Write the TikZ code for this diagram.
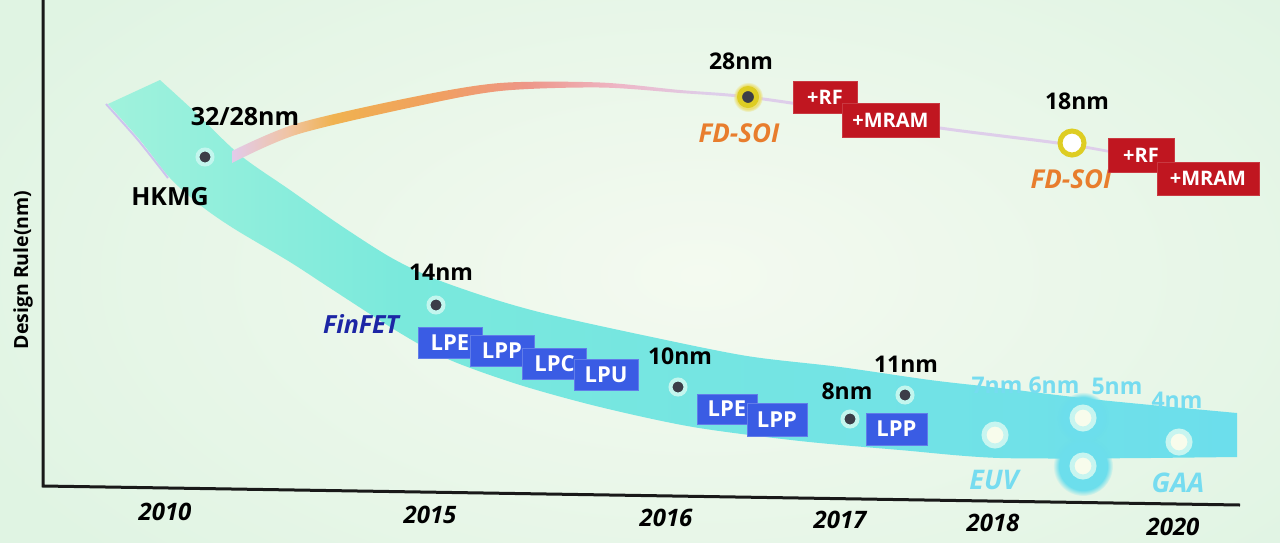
\documentclass[tikz,border=0pt]{standalone}
\usepackage{fontspec}
\setmainfont{Open Sans}
\usetikzlibrary{fadings}
\newcommand\myfs[1]{\fontsize{#1}{#1}\selectfont}
\definecolor{bg}{RGB}{224,244,227}
\definecolor{bgc}{RGB}{244,250,240}
\definecolor{bandL}{RGB}{160,242,220}
\definecolor{bandM}{RGB}{122,233,220}
\definecolor{bandR}{RGB}{108,222,236}
\definecolor{dotc}{RGB}{60,62,72}
\definecolor{halo}{RGB}{195,246,238}
\definecolor{fdorange}{RGB}{232,125,45}
\definecolor{ringy}{RGB}{222,205,35}
\definecolor{redbox}{RGB}{192,22,32}
\definecolor{bluebox}{RGB}{58,92,228}
\definecolor{finblue}{RGB}{28,38,165}
\definecolor{lcyan}{RGB}{118,220,240}
\definecolor{axisc}{RGB}{25,25,25}
\definecolor{rb1}{RGB}{226,202,234}
\definecolor{rb2}{RGB}{240,196,165}
\definecolor{rb3}{RGB}{240,178,80}
\definecolor{rb4}{RGB}{240,160,95}
\definecolor{rb5}{RGB}{238,150,135}
\definecolor{rb6}{RGB}{238,182,198}
\definecolor{rb7}{RGB}{222,206,234}
\pgfdeclarehorizontalshading{bandshade}{100bp}{color(0bp)=(bandL); color(25bp)=(bandL); color(38bp)=(bandM); color(75bp)=(bandR); color(100bp)=(bandR)}
\pgfdeclarehorizontalshading{fdshade}{100bp}{color(0bp)=(rb1); color(25bp)=(rb1); color(28bp)=(rb2); color(30.5bp)=(rb3); color(36bp)=(rb4); color(41bp)=(rb5); color(46bp)=(rb6); color(51bp)=(rb7); color(75bp)=(rb7); color(100bp)=(rb7)}
\begin{document}
\begin{tikzpicture}[x=1pt,y=-1pt,
  lbl/.style={inner sep=0pt, font=\bfseries\myfs{23}},
  biglbl/.style={inner sep=0pt, font=\bfseries\myfs{25}},
  yearlbl/.style={inner sep=0pt, font=\bfseries\itshape\myfs{24}},
  fdlbl/.style={inner sep=0pt, text=fdorange, font=\bfseries\itshape\myfs{26}},
  cyanlbl/.style={inner sep=0pt, text=lcyan, font=\bfseries\myfs{23}},
  cyanit/.style={inner sep=0pt, text=lcyan, font=\bfseries\itshape\myfs{27}},
  ndot/.style={circle, fill=dotc, draw=halo, line width=4pt, minimum size=15pt, inner sep=0pt},
  ydot/.style={circle, fill=dotc, draw=ringy, line width=5pt, minimum size=17pt, inner sep=0pt},
  yring/.style={circle, fill=white, draw=ringy, line width=5pt, minimum size=24pt, inner sep=0pt},
  wdot/.style={circle, fill={rgb,255:red,248;green,252;blue,236}, draw={rgb,255:red,200;green,245;blue,240}, line width=5pt, minimum size=22pt, inner sep=0pt},
  lpbox/.style={fill=bluebox, draw=bluebox!80!white, line width=1pt, text=white, font=\bfseries\myfs{22}, minimum width=64pt, minimum height=31pt, inner sep=0pt},
  rfbox/.style={fill=redbox, draw=redbox!85!white, line width=1pt, text=white, font=\bfseries\myfs{20}, minimum height=33pt, inner sep=0pt},
  axisline/.style={draw=axisc, line width=3pt}]
\useasboundingbox (0,0) rectangle (1280,542);
% background
\fill[bg] (0,0) rectangle (1280,542);
\shade[inner color=bgc, outer color=bg] (-100,-150) rectangle (1500,700);
% band
\shade[shading=bandshade] plot[smooth] coordinates {(160,80) (195,112) (240,155) (290,190) (340,225) (390,257) (433,278) (490,298) (547,314) (647,336) (747,356) (840,367) (930,380) (1000,388) (1100,400) (1237,413)}
  -- (1237,457) -- plot[smooth] coordinates {(1150,458) (1000,458) (900,450) (800,441) (693,427) (600,407) (520,385) (450,360) (400,333) (333,290) (290,262) (233,228) (200,205) (170,178) (140,140) (108,104)} -- cycle;
\fill[bandR, path fading=circle with fuzzy edge 20 percent] (1083,466) circle (30);
\fill[bandR, path fading=circle with fuzzy edge 20 percent] (1083,418) circle (26);
\draw[line width=2pt, draw={rgb,255:red,205;green,195;blue,238}] plot[smooth] coordinates {(106,104) (138,140) (168,178)};
% FD-SOI ribbon
\shade[shading=fdshade] plot[smooth] coordinates {(232,151) (297,123.5) (413,97) (500,83) (600,82.5) (680,90) (748,95.5) (850,110.5) (940,126.5) (1072,143.5) (1150,158.5)}
  -- plot[smooth] coordinates {(1150,160.5) (1072,146.5) (940,129.5) (850,113.5) (748,98.5) (680,93) (600,87.5) (500,91) (413,107) (297,134.5) (232,163)} -- cycle;
% axes
\coordinate (ytop) at (43,0);
\coordinate (orig) at (43,486);
\coordinate (xend) at (1240,505);
\draw[axisline] (ytop) -- (orig) -- (xend);
\node[rotate=90, inner sep=0pt, font=\bfseries\myfs{19.5}] (ylab) at (23,270) {Design Rule(nm)};
% years
\node[yearlbl] (y2010) at (165,512) {2010};
\node[yearlbl] (y2015) at (430,515) {2015};
\node[yearlbl] (y2016) at (666,518) {2016};
\node[yearlbl] (y2017) at (840,520) {2017};
\node[yearlbl] (y2018) at (993,523) {2018};
\node[yearlbl] (y2020) at (1173,527) {2020};
% band dots and labels
\node[ndot] (d32) at (205,157) {};
\node[biglbl] (l32) at (245,117) {32/28nm};
\node[biglbl] (lhkmg) at (170,197) {HKMG};
\node[ndot] (d14) at (436,305) {};
\node[lbl] (l14) at (441,272) {14nm};
\node[inner sep=0pt, text=finblue, font=\bfseries\itshape\myfs{25}] (lfin) at (361,324) {FinFET};
\node[lpbox] (lpe1) at (450,342.5) {LPE};
\node[lpbox] (lpp1) at (502,351) {LPP};
\node[lpbox] (lpc1) at (554.5,364) {LPC};
\node[lpbox] (lpu1) at (606,375) {LPU};
\node[ndot] (d10) at (678,387) {};
\node[lbl] (l10) at (680,356) {10nm};
\node[lpbox, minimum width=60pt, minimum height=30pt] (lpe2) at (727,409) {LPE};
\node[lpbox, minimum width=60pt, minimum height=33pt] (lpp2) at (777,419.5) {LPP};
\node[ndot] (d8) at (850,419) {};
\node[lbl] (l8) at (847,391) {8nm};
\node[ndot] (d11) at (905,395) {};
\node[lbl] (l11) at (906,364) {11nm};
\node[lpbox, minimum width=61pt, minimum height=32pt] (lpp3) at (896.5,429) {LPP};
% future nodes
\node[wdot] (deuv) at (995,435) {};
\node[wdot] (d5a) at (1083,418) {};
\node[wdot] (d5b) at (1083,466) {};
\node[wdot] (dgaa) at (1179,442) {};
\node[cyanlbl] (l7) at (997,385) {7nm};
\node[cyanlbl] (l6) at (1054,385) {6nm};
\node[cyanlbl] (l5) at (1117,386) {5nm};
\node[cyanlbl] (l4) at (1177,400) {4nm};
\node[cyanit] (leuv) at (994,480) {EUV};
\node[cyanit] (lgaa) at (1178,483) {GAA};
% FD-SOI branch
\fill[ringy!60!white, path fading=circle with fuzzy edge 20 percent] (748,97) circle (15);
\node[ydot] (d28) at (748,97) {};
\node[lbl] (l28) at (741,61) {28nm};
\node[fdlbl] (fd1) at (739,133) {FD-SOI};
\node[rfbox, minimum width=64pt, minimum height=32pt] (rf1) at (825,97) {+RF};
\node[rfbox, minimum width=97pt, minimum height=34pt] (mr1) at (890.5,120) {+MRAM};
\node[yring] (d18) at (1072,143) {};
\node[lbl] (l18) at (1077,101) {18nm};
\node[fdlbl] (fd2) at (1071,179) {FD-SOI};
\node[rfbox, minimum width=66pt, minimum height=34pt] (rf2) at (1141,155) {+RF};
\node[rfbox, minimum width=102pt, minimum height=33pt] (mr2) at (1208,178.5) {+MRAM};
\end{tikzpicture}
\end{document}
